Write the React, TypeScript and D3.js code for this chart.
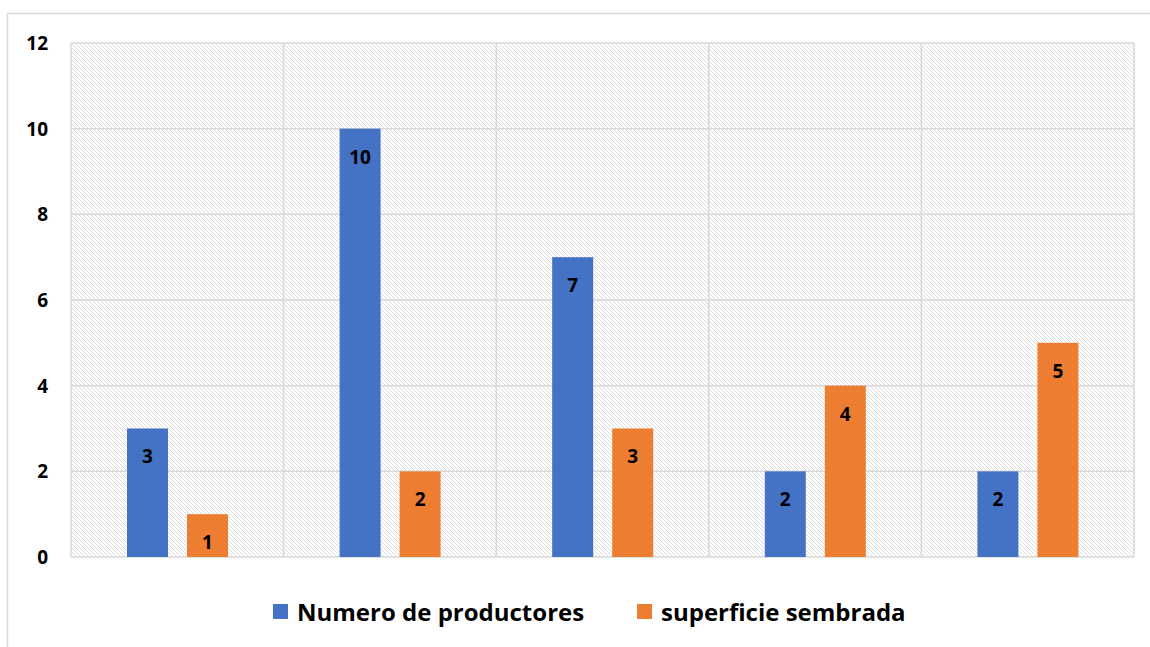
import React from 'react';
import * as d3 from 'd3';

const categories = ['A', 'B', 'C', 'D', 'E'];
const productores = [3, 10, 7, 2, 2];
const superficie = [1, 2, 3, 4, 5];
const yTicks = [0, 2, 4, 6, 8, 10, 12];
const seriesNames = ['Numero de productores', 'superficie sembrada'];
const colors = ['#4472c4', '#ed7d31'];

const W = 1150;
const H = 647;
const plot = { left: 71, right: 1134, top: 43, bottom: 557 };
const font = '"Open Sans", Lato, sans-serif';

const App = () => {
  const x = d3.scaleBand<string>()
    .domain(categories)
    .range([plot.left, plot.right]);

  const bw0 = x.bandwidth();
  // bar pair sits in the middle of each category
  const inner = d3.scaleBand<number>()
    .domain([0, 1])
    .range([bw0 * 0.2634, bw0 * 0.7385])
    .paddingInner(0.317);

  const y = d3.scaleLinear()
    .domain([0, 12])
    .range([plot.bottom, plot.top]);

  const series = [productores, superficie];

  return (
    <svg width={W} height={H} style={{ position: 'absolute', left: 0, top: 0 }}>
      <defs>
        <pattern id="hatch" width="4" height="4" patternUnits="userSpaceOnUse">
          <rect width="4" height="4" fill="#ffffff" />
          <path d="M-1,-1 L5,5 M-1,3 L1,5 M3,-1 L5,1" stroke="#d8d8d8" strokeWidth="0.9" />
        </pattern>
      </defs>
      <rect x={0} y={0} width={W} height={H} fill="#fff" />
      <rect x={7.5} y={13.5} width={W + 20} height={H + 20} fill="none" stroke="#d9d9d9" strokeWidth={1.5} />

      <rect x={plot.left} y={plot.top} width={plot.right - plot.left} height={plot.bottom - plot.top} fill="url(#hatch)" />

      {yTicks.map(t => (
        <line key={'h' + t} x1={plot.left} x2={plot.right} y1={y(t)} y2={y(t)} stroke="#d9d9d9" strokeWidth={1.5} />
      ))}
      {categories.map(c => (
        <line key={'v' + c} x1={x(c)} x2={x(c)} y1={plot.top} y2={plot.bottom} stroke="#d9d9d9" strokeWidth={1.5} />
      ))}
      <line x1={plot.right} x2={plot.right} y1={plot.top} y2={plot.bottom} stroke="#d9d9d9" strokeWidth={1.5} />

      {yTicks.map(t => (
        <text key={'t' + t} x={48} y={y(t)} dy="0.36em" textAnchor="end" fontFamily={font} fontWeight="bold" fontSize={19} fill="#000">
          {t}
        </text>
      ))}

      {categories.map((c, i) => (
        <g key={c}>
          {series.map((s, k) => {
            const bx = (x(c) ?? 0) + (inner(k) ?? 0);
            const bw = inner.bandwidth();
            return (
              <g key={k}>
                <rect x={bx} y={y(s[i])} width={bw} height={y(0) - y(s[i])} fill={colors[k]} />
                <text x={bx + bw / 2} y={y(s[i]) + 28} dy="0.36em" textAnchor="middle" fontFamily={font} fontWeight="bold" fontSize={19} fill="#000">
                  {s[i]}
                </text>
              </g>
            );
          })}
        </g>
      ))}

      <g>
        <rect x={273} y={604} width={15} height={15} fill={colors[0]} />
        <text x={297} y={612} dy="0.36em" fontFamily={font} fontWeight="bold" fontSize={24} fill="#000">{seriesNames[0]}</text>
        <rect x={637} y={604} width={15} height={15} fill={colors[1]} />
        <text x={661} y={612} dy="0.36em" fontFamily={font} fontWeight="bold" fontSize={24} fill="#000">{seriesNames[1]}</text>
      </g>
    </svg>
  );
};

export default App;
